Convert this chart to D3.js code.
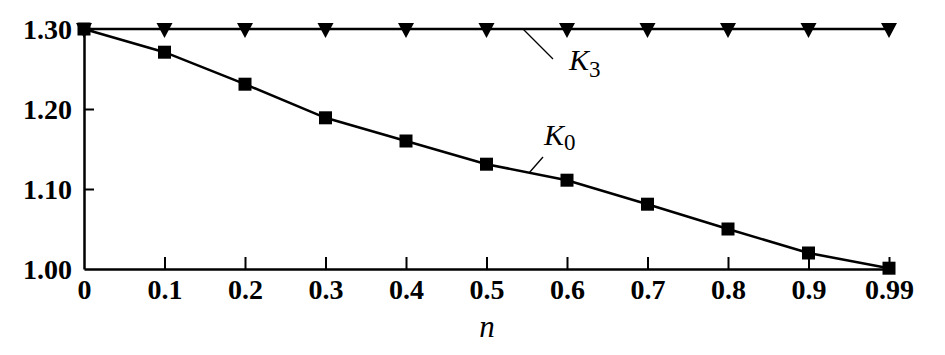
<!DOCTYPE html>
<html><head><meta charset="utf-8">
<script src="https://cdn.jsdelivr.net/npm/d3@7/dist/d3.min.js"></script>
<style>body{margin:0;background:#fff}svg{display:block}text{font-family:"Liberation Serif","Times New Roman",serif;fill:#000}</style>
</head><body><svg id="c" width="945" height="355"></svg>
<script>
const categories = ["0","0.1","0.2","0.3","0.4","0.5","0.6","0.7","0.8","0.9","0.99"];
const k0Values = [1.300,1.271,1.231,1.189,1.160,1.131,1.111,1.081,1.050,1.020,1.001];
const k3Values = [1.300,1.300,1.300,1.300,1.300,1.300,1.300,1.300,1.300,1.300,1.300];
const yTicks = [1.00,1.10,1.20,1.30];
const xTitle = "n";

const svg = d3.select("#c");
const x = d3.scalePoint().domain(categories).range([84, 889]);
const y = d3.scaleLinear().domain([1.0, 1.3]).range([269, 29]);

// axes
const xAxis = svg.append("g").attr("transform","translate(0,269)")
  .call(d3.axisBottom(x).tickSize(-12).tickSizeOuter(0).tickPadding(24));
const yAxis = svg.append("g").attr("transform","translate(84,0)")
  .call(d3.axisLeft(y).tickValues(yTicks).tickFormat(d3.format(".2f")).tickSize(-10).tickSizeOuter(0).tickPadding(12));
[xAxis,yAxis].forEach(g=>{
  g.attr("font-size",null).attr("font-family",null);
  g.select(".domain").attr("stroke","#000").attr("stroke-width",2.5);
  g.selectAll(".tick line").attr("stroke","#000").attr("stroke-width",2);
  g.selectAll(".tick text").style("font-size","28px").style("font-weight","bold").attr("fill","#000");
});
xAxis.selectAll(".tick").filter(d=>d==="0").select("line").remove();
xAxis.selectAll(".tick text").attr("dy","0.2em");
yAxis.selectAll(".tick text").attr("dy","0.35em");
yAxis.selectAll(".tick").filter(d=>d===1.0).select("line").remove();

// x title
svg.append("text").attr("x",487).attr("y",337).attr("text-anchor","middle")
  .style("font-size","31px").style("font-style","italic").text(xTitle);

const line = d3.line().x((d,i)=>x(categories[i])).y(d=>y(d));
svg.append("path").datum(k3Values).attr("d",line).attr("fill","none").attr("stroke","#000").attr("stroke-width",2.5);
svg.append("path").datum(k0Values).attr("d",line).attr("fill","none").attr("stroke","#000").attr("stroke-width",2.5);

// markers
svg.selectAll(".tri").data(k3Values).join("path")
  .attr("d",(d,i)=>{const cx=x(categories[i]), cy=y(d); return `M${cx-8},${cy-6}L${cx+8},${cy-6}L${cx},${cy+9}Z`;})
  .attr("fill","#000");
svg.selectAll(".sq").data(k0Values).join("rect")
  .attr("x",(d,i)=>x(categories[i])-6.5).attr("y",d=>y(d)-6.5)
  .attr("width",13).attr("height",13).attr("fill","#000");

// labels with leader lines
svg.append("line").attr("x1",523).attr("y1",29).attr("x2",553).attr("y2",59).attr("stroke","#000").attr("stroke-width",1.3);
const k3 = svg.append("text").attr("x",569).attr("y",70).style("font-size","30px");
k3.append("tspan").style("font-style","italic").text("K");
k3.append("tspan").style("font-size","23px").attr("dy",7).text("3");
svg.append("line").attr("x1",529).attr("y1",173).attr("x2",543).attr("y2",157).attr("stroke","#000").attr("stroke-width",1.3);
const k0 = svg.append("text").attr("x",544).attr("y",145).style("font-size","30px");
k0.append("tspan").style("font-style","italic").text("K");
k0.append("tspan").style("font-size","23px").attr("dy",5).text("0");
</script></body></html>
